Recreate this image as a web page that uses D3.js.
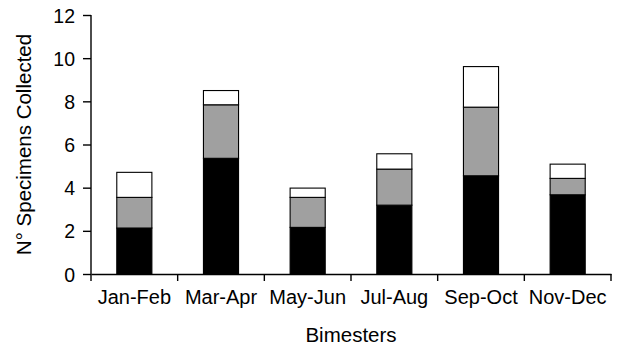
<!DOCTYPE html>
<html><head><meta charset="utf-8">
<script src="https://cdn.jsdelivr.net/npm/d3@7"></script>
<style>body{margin:0;background:#fff}svg{display:block}text{font-family:"Liberation Sans",Arial,sans-serif;fill:#000}</style>
</head><body><svg id="c" width="617" height="347"></svg>
<script>
const categories = ["Jan-Feb","Mar-Apr","May-Jun","Jul-Aug","Sep-Oct","Nov-Dec"];
const seriesBlack = [2.13, 5.36, 2.16, 3.19, 4.55, 3.67];
const seriesGray  = [1.42, 2.48, 1.39, 1.67, 3.18, 0.76];
const seriesWhite = [1.16, 0.66, 0.43, 0.71, 1.88, 0.66];
const yTicks = [0, 2, 4, 6, 8, 10, 12];
const seriesKeys = ["black","gray","white"];
const colors = {black:"#000000", gray:"#a0a0a0", white:"#ffffff"};

const rows = categories.map((c,i)=>({cat:c, black:seriesBlack[i], gray:seriesGray[i], white:seriesWhite[i]}));
const stack = d3.stack().keys(seriesKeys)(rows);

const svg = d3.select("#c");
const m = {left:91, right:6, top:15, bottom:73};
const W = 617, H = 347;
const x = d3.scaleBand().domain(categories).range([m.left, W - m.right]).padding(0);
const y = d3.scaleLinear().domain([0, 12]).range([H - m.bottom, m.top]);
const barW = x.bandwidth() * 0.405;

svg.append("g").selectAll("g").data(stack).join("g")
  .attr("fill", d => colors[d.key])
  .selectAll("rect").data(d => d).join("rect")
  .attr("x", d => x(d.data.cat) + x.bandwidth()/2 - barW/2)
  .attr("y", d => y(d[1]))
  .attr("width", barW)
  .attr("height", d => y(d[0]) - y(d[1]))
  .attr("stroke", "#000").attr("stroke-width", 1.1);

// y axis
const ya = svg.append("g").attr("transform", `translate(${m.left},0)`)
  .call(d3.axisLeft(y).tickValues(yTicks).tickSize(8).tickPadding(8).tickFormat(d3.format("d")));
ya.select(".domain").attr("stroke-width", 1.4).attr("d", `M0,${y(12)}V${y(0)}`);
ya.selectAll(".tick line").attr("stroke-width", 1.4);
ya.selectAll("text").style("font-size", "19.5px").attr("dy", "0.36em");

// x axis
const xa = svg.append("g").attr("transform", `translate(0,${y(0)})`)
  .call(d3.axisBottom(x).tickSize(0).tickPadding(16));
xa.select(".domain").attr("stroke-width", 1.4);
xa.selectAll("text").style("font-size", "20px");
const bounds = categories.map(c => x(c)).concat([x(categories[categories.length-1]) + x.bandwidth()]);
xa.selectAll("line.bt").data(bounds).join("line").attr("class","bt")
  .attr("x1", d => d).attr("x2", d => d).attr("y1", 0).attr("y2", 7)
  .attr("stroke", "#000").attr("stroke-width", 1.4);

svg.append("text").attr("x", (m.left + W - m.right)/2).attr("y", 342)
  .attr("text-anchor", "middle").style("font-size", "20.5px").text("Bimesters");
svg.append("text").attr("transform", `translate(31,${(y(0)+y(12))/2}) rotate(-90)`)
  .attr("text-anchor", "middle").style("font-size", "20.5px").text("N° Specimens Collected");
</script></body></html>
